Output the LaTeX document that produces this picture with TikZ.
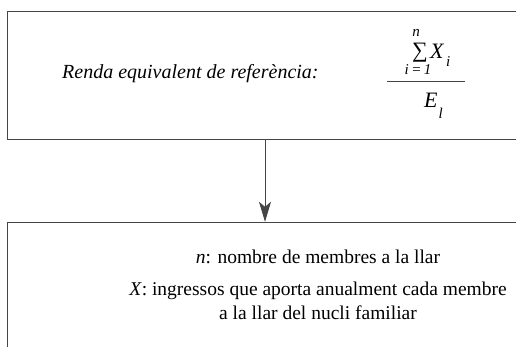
\documentclass[tikz,border=0pt]{standalone}
\usepackage{fontspec}
\setmainfont{Liberation Serif}
\usepackage{tikz}
\usetikzlibrary{positioning,calc,arrows.meta}
\definecolor{frame}{HTML}{454545}
\newcommand*{\bigtxt}[1]{\fontsize{22}{26}\selectfont #1}
\newcommand*{\smalltxt}[1]{\fontsize{15}{18}\selectfont #1}

\begin{document}
\begin{tikzpicture}[x=1pt,y=1pt,
  panel/.style={draw=frame,line width=1.4pt,inner sep=0pt},
  word/.style={inner sep=0pt,anchor=base west},
  note/.style={inner sep=0pt,anchor=base,font=\fontsize{19.5}{23}\selectfont}]
\useasboundingbox (0,0) rectangle (516,346);
\clip (0,0) rectangle (516,346);
% Upper panel with the formula
\node [panel,minimum width=515pt,minimum height=128pt] (refbox) at (265,270.5) {};
% Lower panel with the notes
\node [panel,minimum width=621pt,minimum height=160pt] (notebox) at (318,43.5) {};
% Label in front of the fraction
\node [word,font=\fontsize{20}{24}\selectfont\itshape] (reflabel) at (62,267) {Renda equivalent de referència:};
% Numerator: sum of X_i
\node [inner sep=0pt,anchor=base,text height=16pt,text depth=3pt] (sum) at (420,288) {\bigtxt{∑}};
\node [inner sep=0pt,anchor=base] (sumtop) at (416,309.5) {\smalltxt{\itshape n}};
\node [inner sep=0pt,anchor=base] (sumbot) at (418,271) {\smalltxt{\itshape i}\,\smalltxt{=}\,\smalltxt{1}};
\node [word] (xvar) at (430,287) {\bigtxt{\itshape X}};
\node [word] (xsub) at ($(xvar.base east)+(2,-8)$) {\smalltxt{\itshape i}};
% Fraction bar
\coordinate (barl) at (387,264.5);
\coordinate (barr) at (465,264.5);
\draw [line width=0.8pt,frame] (barl) -- (barr);
% Denominator: E_l
\node [word] (evar) at (424,239) {\bigtxt{\itshape E}};
\node [word] (esub) at ($(evar.base east)+(0.5,-11)$) {\smalltxt{\itshape l}};
% Arrow from upper to lower panel
\draw [line width=0.8pt,frame,-{Stealth[length=20pt,width=12pt,inset=5pt]}]
  (refbox.south) -- (refbox.south |- notebox.north);
% Notes
\node [note] (noten) at (318,83) {\textit{n}: nombre de membres a la llar};
\node [note] (notex) at (318,51) {\textit{X}: ingressos que aporta anualment cada membre};
\node [note] (notex2) at (318,27) {a la llar del nucli familiar};
\end{tikzpicture}
\end{document}
